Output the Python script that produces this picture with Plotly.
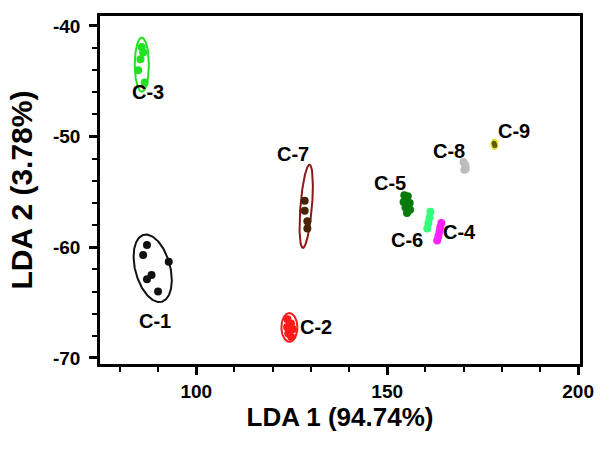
import numpy as np
import plotly.graph_objects as go

# ---- point data (LDA scores) ----
groups = ["C-1", "C-2", "C-3", "C-4", "C-5", "C-6", "C-7", "C-8", "C-9"]
colors = {"C-1": "#111111", "C-2": "#ff1a1a", "C-3": "#22e022", "C-4": "#ff22ff",
          "C-5": "#0a7a0a", "C-6": "#33ff77", "C-7": "#4a2208", "C-8": "#bdbdbd",
          "C-9": "#5a5a00"}
pts_x = {
    "C-1": [87.1, 86.1, 92.8, 88.3, 87.1, 90.0],
    "C-2": [123.9, 124.8, 125.3, 124.1, 124.9, 123.8],
    "C-3": [85.7, 86.1, 85.4, 84.8, 86.5],
    "C-4": [164.2, 163.9, 163.7, 163.4, 163.1],
    "C-5": [154.5, 155.4, 155.9, 154.8, 155.2, 156.0, 154.3],
    "C-6": [161.3, 161.1, 160.8, 160.5],
    "C-7": [128.4, 128.4, 129.1, 129.1],
    "C-8": [170.0, 170.5, 170.2, 170.6],
    "C-9": [178.0, 178.2],
}
pts_y = {
    "C-1": [-59.8, -60.7, -61.3, -62.5, -62.9, -64.0],
    "C-2": [-66.5, -66.9, -67.4, -67.8, -68.1, -67.2],
    "C-3": [-41.9, -42.4, -43.0, -44.0, -45.1],
    "C-4": [-57.8, -58.2, -58.6, -59.0, -59.4],
    "C-5": [-55.3, -55.4, -56.0, -56.4, -56.9, -56.6, -55.9],
    "C-6": [-56.8, -57.3, -57.8, -58.3],
    "C-7": [-55.8, -56.7, -57.65, -58.3],
    "C-8": [-52.3, -52.6, -53.0, -52.9],
    "C-9": [-50.6, -50.8],
}

# ---- group ellipses: centre, half extents (data units), correlation ----
ell_groups = ["C-1", "C-2", "C-3", "C-7", "C-9"]
ell_cx = [88.6, 124.4, 85.75, 128.8, 178.1]
ell_cy = [-61.9, -67.25, -43.5, -56.3, -50.7]
ell_rx = [5.0, 2.1, 1.85, 1.75, 0.8]
ell_ry = [3.05, 1.3, 2.45, 3.76, 0.42]
ell_rho = [-0.35, 0.0, 0.0, 0.5, 0.0]
ell_colors = ["#111111", "#ff1a1a", "#22e022", "#8b1a1a", "#e8e020"]

# ---- label positions ----
lab_x = [89.1, 131.3, 87.3, 168.9, 150.8, 155.2, 125.4, 166.1, 183.2]
lab_y = [-66.7, -67.25, -46.0, -58.6, -54.15, -59.3, -51.6, -51.3, -49.5]

x_ticks = [100, 150, 200]
y_ticks = [-70, -60, -50, -40]
y_ticktext = ["-70", "-60", "-50", "-40"]

fig = go.Figure()
t = np.linspace(0, 2 * np.pi, 200)
for g, cx, cy, rx, ry, rho, col in zip(ell_groups, ell_cx, ell_cy, ell_rx, ell_ry, ell_rho, ell_colors):
    ex = cx + rx * np.cos(t)
    ey = cy + ry * (rho * np.cos(t) + np.sqrt(1 - rho ** 2) * np.sin(t))
    fig.add_trace(go.Scatter(x=ex, y=ey, mode="lines", line=dict(color=col, width=2),
                             hoverinfo="skip", showlegend=False))

for g in groups:
    fig.add_trace(go.Scatter(x=pts_x[g], y=pts_y[g], mode="markers",
                             marker=dict(color=colors[g], size=8 if g != "C-9" else 5),
                             name=g, showlegend=False))

font = "Liberation Sans, Arial, sans-serif"
for g, lx, ly in zip(groups, lab_x, lab_y):
    fig.add_annotation(x=lx, y=ly, text=g, showarrow=False,
                       font=dict(family=font, size=20, color="black", weight="bold"))

axis_common = dict(showline=True, linecolor="black", linewidth=2.5, mirror=True,
                   ticks="outside", ticklen=8, tickwidth=3, tickcolor="black",
                   showgrid=False, zeroline=False,
                   tickfont=dict(family=font, size=19, color="black", weight="bold"))
fig.update_xaxes(range=[74.8, 200.5], tickvals=x_ticks,
                 minor=dict(dtick=10, tick0=0, ticks="outside", ticklen=5, tickwidth=2, tickcolor="black"),
                 title=dict(text="LDA 1 (94.74%)", standoff=2,
                            font=dict(family=font, size=26, color="black", weight="bold")),
                 **axis_common)
fig.update_yaxes(range=[-70.55, -39.1], tickvals=y_ticks, ticktext=y_ticktext,
                 ticklabelstandoff=5,
                 minor=dict(dtick=2, tick0=0, ticks="outside", ticklen=5, tickwidth=2, tickcolor="black"),
                 title=dict(text="LDA 2 (3.78%)", standoff=12,
                            font=dict(family=font, size=30, color="black", weight="bold")),
                 **axis_common)
fig.update_layout(width=606, height=449, margin=dict(l=100, r=21, t=16, b=85),
                  plot_bgcolor="white", paper_bgcolor="white")
fig.write_html("out.html")
